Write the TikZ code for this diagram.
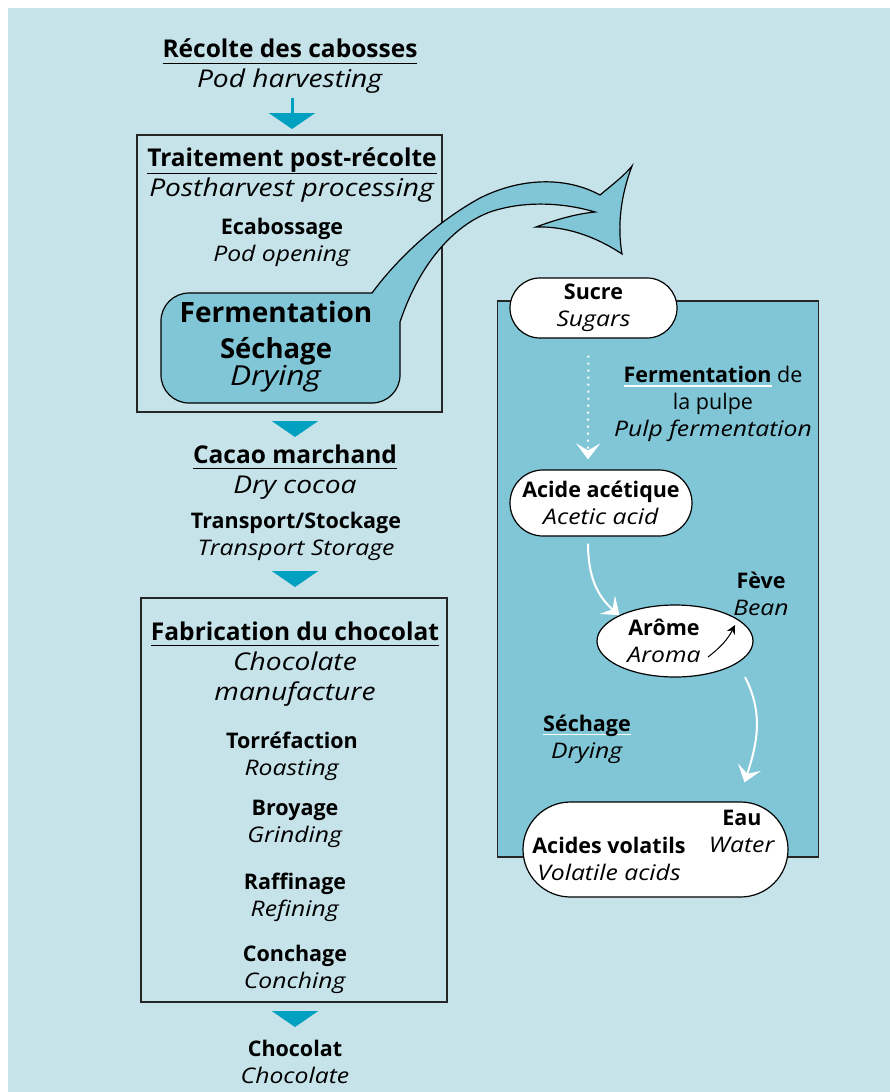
\documentclass[tikz,border=0pt]{standalone}
\usepackage{fontspec}
\setmainfont{Open Sans}[ItalicFeatures={FakeStretch=1.15}]
\usetikzlibrary{arrows.meta,shapes.misc,shapes.geometric,positioning}
\definecolor{bgblue}{RGB}{198,227,234}
\definecolor{midblue}{RGB}{128,198,214}
\definecolor{chevblue}{RGB}{0,160,192}
\newcommand{\undl}[3][black]{\leavevmode\setbox0\hbox{#3}\rlap{\color{#1}\rule[-#2]{\wd0}{1.3pt}}\box0\relax}

\begin{document}
\begin{tikzpicture}[x=1pt, y=-1pt, line width=1.2pt]
    \tikzstyle{txt} = [align=center, inner sep=0pt, font=\fontsize{21.5}{27}\selectfont]
    \tikzstyle{head} = [txt, font=\fontsize{24.5}{30}\selectfont]
    \tikzstyle{frame} = [rectangle, draw=black!85, inner sep=0pt]
    \tikzstyle{pill} = [rounded rectangle, draw, fill=white, txt]
    \tikzstyle{chev} = [draw=chevblue, line width=3pt, -{Triangle[width=46pt,length=16pt]}]
    \tikzstyle{flow} = [draw=white, line width=2pt, -{Stealth[width=24pt,length=16pt,inset=7pt]}]

    \useasboundingbox (0,0) rectangle (890,1092);
    \fill [bgblue] (8,8) rectangle (890,1092);

    \node (postbox) [frame, minimum width=305pt, minimum height=277pt] at (289.5,273.5) {};
    \node (fabbox) [frame, minimum width=306pt, minimum height=404pt] at (294,800) {};
    \node (pulpbox) [frame, fill=midblue, minimum width=321pt, minimum height=556pt] at (658,579) {};

    % fermentation box and the big arrow towards the bean
    \filldraw [fill=midblue, draw=black]
        (372,293) .. controls (400,255) and (440,220) .. (480,198)
        .. controls (520,178) and (565,176) .. (600,195)
        .. controls (612,185) and (625,175) .. (632,166)
        .. controls (621,195) and (617,225) .. (622,254)
        .. controls (595,236) and (565,226) .. (536,227)
        .. controls (555,220) and (575,214) .. (595,212)
        .. controls (565,203) and (525,200) .. (490,212)
        .. controls (455,225) and (420,262) .. (400,322)
        -- (400,326) [rounded corners=28pt] -- (400,403) -- (161,403) -- (161,293) -- (250,293)
        [sharp corners] -- cycle;

    \node (recolte) [head] at (290,66) {\undl{7pt}{\textbf{Récolte des cabosses}}\\\textit{Pod harvesting}};
    \node (traitement) [head] at (292,175) {\undl{8pt}{\textbf{Traitement post-récolte}}\\\textit{Postharvest processing}};
    \node (ecabossage) [txt] at (282,242) {\textbf{Ecabossage}\\\textit{Pod opening}};
    \node (ferm) [txt, font=\fontsize{27.5}{30}\selectfont] at (276,347) {{\fontsize{28}{34}\selectfont\textbf{Fermentation}}\\[6pt]\textbf{Séchage}\\[-3pt]\textit{Drying}};
    \node (cacao) [head] at (295,472) {\undl{6pt}{\textbf{Cacao marchand}}\\\textit{Dry cocoa}};
    \node (transport) [txt] at (296,536) {\textbf{Transport/Stockage}\\\textit{Transport Storage}};
    \node (fabrication) [head] at (295,664) {\undl{6pt}{\textbf{Fabrication du chocolat}}\\\textit{Chocolate}\\\textit{manufacture}};
    \node (torref) [txt] at (292,756) {\textbf{Torréfaction}\\\textit{Roasting}};
    \node (broyage) [txt] at (295,824) {\textbf{Broyage}\\\textit{Grinding}};
    \node (raffinage) [txt] at (295,897) {\textbf{Raffinage}\\\textit{Refining}};
    \node (conchage) [txt] at (295,969) {\textbf{Conchage}\\\textit{Conching}};
    \node (chocolat) [txt] at (295,1062) {\textbf{Chocolat}\\\textit{Chocolate}};

    \node (sucre) [pill, minimum width=167pt, minimum height=60pt] at (593.5,308) {\textbf{Sucre}\\\textit{Sugars}};
    \node (pulpe) [txt] at (713,404) {\undl[white]{4pt}{\textbf{Fermentation}} de\\la pulpe\\\textit{Pulp fermentation}};
    \node (acide) [pill, minimum width=182pt, minimum height=66pt] at (601,503) {\textbf{Acide acétique}\\\textit{Acetic acid}};
    \node (arome) [ellipse, draw, fill=white, inner sep=0pt, minimum width=156pt, minimum height=72pt] at (675,641) {};
    \node (aromatxt) [txt] at (664,641) {\textbf{Arôme}\\\textit{Aroma}};
    \node (feve) [txt] at (761,594) {\textbf{Fève}\\\textit{Bean}};
    \node (sechage) [txt] at (587,739) {\undl[white]{4pt}{\textbf{Séchage}}\\\textit{Drying}};
    \node (volatils) [pill, minimum width=265pt, minimum height=95pt] at (655.5,849.5) {};
    \node (volatxt) [txt] at (609,859) {\textbf{Acides volatils}\\\textit{Volatile acids}};
    \node (eau) [txt] at (742,831) {\textbf{Eau}\\\textit{Water}};

    \coordinate (chev1) at (292,98);
    \coordinate (chev1tip) at (292,129);
    \coordinate (chev2) at (295,421);
    \coordinate (chev2tip) at (295,437);
    \coordinate (chev3) at (295,571);
    \coordinate (chev3tip) at (295,587);
    \coordinate (chev4) at (295,1011);
    \coordinate (chev4tip) at (295,1027);
    \coordinate (aromaout) at (708,657);
    \coordinate (beanin) at (735,625);
    \coordinate (dryout) at (745,677);

    \draw [chev] (chev1) -- (chev1tip);
    \draw [chev] (chev2) -- (chev2tip);
    \draw [chev] (chev3) -- (chev3tip);
    \draw [chev] (chev4) -- (chev4tip);

    \draw [flow, dash pattern=on 2pt off 5pt, shorten <=17pt, shorten >=10pt] ([xshift=-5pt]sucre.south) -- ([xshift=-13pt]acide.north);
    \draw [flow] ([xshift=-13pt, yshift=-7pt]acide.south) to[out=-90, in=140] (arome.155);
    \draw [flow] (dryout) to[out=-63, in=72] ([xshift=89pt, yshift=19pt]volatils.north);
    \draw [-{Stealth[width=9pt,length=9pt]}, line width=1pt] (aromaout) to[out=38, in=243] (beanin);
\end{tikzpicture}
\end{document}
